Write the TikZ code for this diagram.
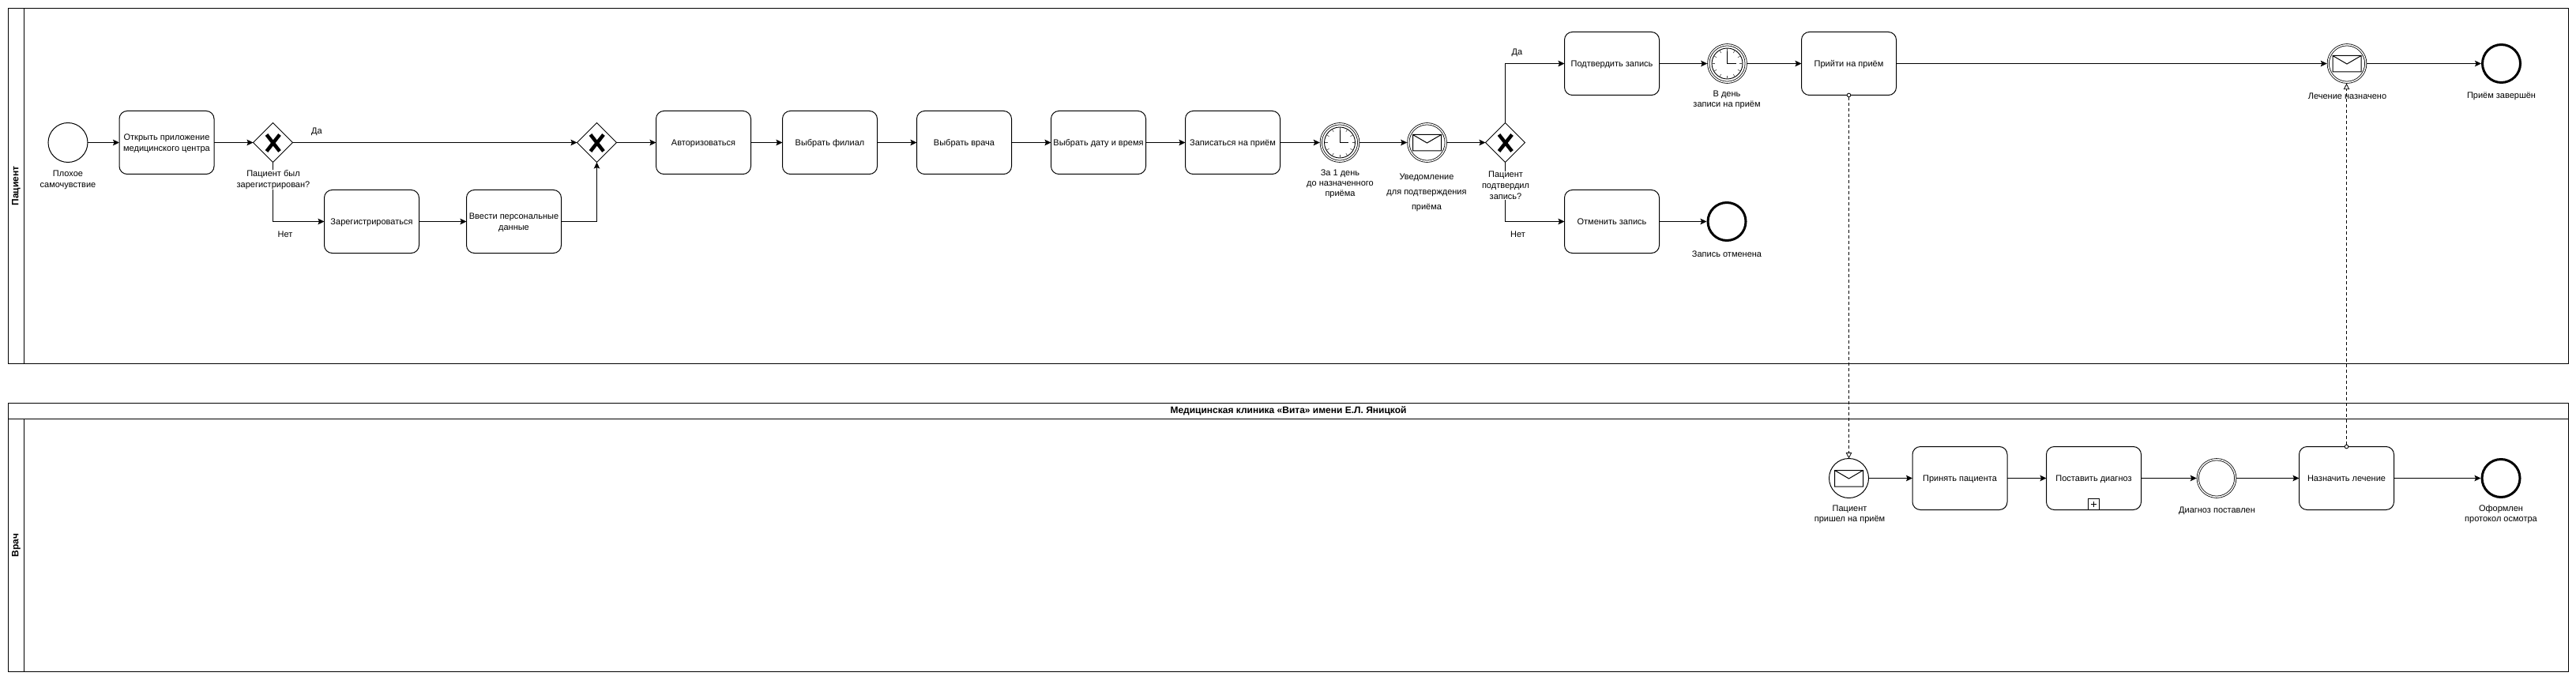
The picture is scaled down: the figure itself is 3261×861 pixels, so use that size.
\documentclass[tikz,border=0pt]{standalone}
\usepackage{fontspec}
\setmainfont{Liberation Sans}
\usetikzlibrary{arrows.meta,shapes.geometric}
\tikzset{
  x=1pt,y=-1pt,
  base/.style={line width=1pt,draw=black,inner sep=0pt,outer sep=0pt},
  txt/.style={font=\fontsize{11}{14}\selectfont,align=center},
  task/.style={base,txt,rounded corners=10pt,minimum width=120pt,minimum height=80pt,text depth=0pt},
  startev/.style={base,circle,minimum size=50pt},
  interev/.style={base,circle,double,double distance=1.5pt,line width=.8pt,outer sep=1.5pt,minimum size=47.5pt},
  endev/.style={base,circle,line width=3pt,minimum size=48pt,outer sep=1.5pt},
  gate/.style={base,diamond,minimum width=50pt,minimum height=50pt,aspect=1},
  lbl/.style={txt,inner sep=0pt,outer sep=0pt},
  lblw/.style={lbl,fill=white},
  lane/.style={base,minimum width=#1,minimum height=20pt,font=\bfseries\fontsize{12}{14}\selectfont,rotate=90},
  body/.style={base},
  flow/.style={line width=1pt,-{Stealth[length=8pt,width=7.5pt,inset=1.5pt]}},
  msgflow/.style={line width=.8pt,dash pattern=on 4pt off 3pt,
    {Circle[fill=white,length=5.5pt,width=5.5pt,line width=.8pt]}-{Triangle[fill=white,length=7.5pt,width=7.5pt,line width=.8pt]},shorten <=-2.75pt},
}
\newcommand{\gatex}[1]{\draw[line width=4.5pt] ([shift={(-8,-10)}]#1.center) -- ([shift={(8.5,11)}]#1.center) ([shift={(8.5,-10)}]#1.center) -- ([shift={(-8,11)}]#1.center);}
\newcommand{\envicon}[1]{\draw[line width=1pt] ([shift={(-18,-10)}]#1.center) rectangle ([shift={(18,10.5)}]#1.center) ([shift={(-18,-10)}]#1.center) -- ([shift={(0,0.5)}]#1.center) -- ([shift={(18,-10)}]#1.center);}
\newcommand{\clockicon}[1]{%
  \draw[line width=.9pt] (#1.center) circle[radius=19.5pt];
  \draw[line width=.9pt] ([shift={(0,-19)}]#1.center) -- (#1.center) -- ([shift={(11,0)}]#1.center);
  \foreach \a in {0,30,...,330}{\draw[line width=.6pt,draw=black!70] ([shift={(\a:15.5pt)}]#1.center) -- ([shift={(\a:19pt)}]#1.center);}
}
\begin{document}
\begin{tikzpicture}
\useasboundingbox (-0.5,-0.5) rectangle (3260.5,860.5);
% pools
\node[body,minimum width=3241pt,minimum height=450pt] (poolA) at (1630.5,235) {};
\node[lane=450pt] (headA) at (20,235) {Пациент};
\node[base,minimum width=3241pt,minimum height=20pt,font=\bfseries\fontsize{12}{14}\selectfont] (titleB) at (1630.5,520) {Медицинская клиника «Вита» имени Е.Л. Яницкой};
\node[body,minimum width=3241pt,minimum height=320pt] (poolB) at (1630.5,690) {};
\node[lane=320pt] (headB) at (20,690) {Врач};
% patient row
\node[startev] (s1) at (85.5,180) {};
\node[task] (open) at (210.5,180) {Открыть приложение\\медицинского центра};
\node[gate] (g1) at (345,180) {};
\node[task] (reg) at (470,280) {Зарегистрироваться};
\node[task] (pers) at (650,280) {Ввести персональные\\данные};
\node[gate] (g2) at (755,180) {};
\node[task] (auth) at (890,180) {Авторизоваться};
\node[task] (branch) at (1050,180) {Выбрать филиал};
\node[task] (doc) at (1220,180) {Выбрать врача};
\node[task] (date) at (1390,180) {Выбрать дату и время};
\node[task] (book) at (1560,180) {Записаться на приём};
\node[interev] (t1) at (1695.5,180) {};
\node[interev] (n1) at (1806,180) {};
\node[gate] (g3) at (1905,180) {};
\node[task] (conf) at (2040,80) {Подтвердить запись};
\node[task] (canc) at (2040,280) {Отменить запись};
\node[interev] (t2) at (2186,80) {};
\node[endev] (e1) at (2185.5,280) {};
\node[task] (come) at (2340,80) {Прийти на приём};
\node[interev] (m2) at (2970.5,80) {};
\node[endev] (e2) at (3166,80) {};
% doctor row
\node[startev] (s2) at (2340,605) {};
\node[task] (acc) at (2480.5,605) {Принять пациента};
\node[task] (diag) at (2650,605) {Поставить диагноз};
\node[base,minimum size=14pt] (plus) at (2650,638) {};
\node[interev] (ev) at (2805.5,605) {};
\node[task] (presc) at (2970,605) {Назначить лечение};
\node[endev] (e3) at (3165.5,605) {};
% icons
\gatex{g1}\gatex{g2}\gatex{g3}
\clockicon{t1}\clockicon{t2}
\envicon{n1}\envicon{m2}\envicon{s2}
\draw[line width=1pt] ([shift={(-3.5,0)}]plus.center) -- ([shift={(3.5,0)}]plus.center) ([shift={(0,-3.5)}]plus.center) -- ([shift={(0,3.5)}]plus.center);
% sequence flows
\draw[flow] (s1) -- (open);
\draw[flow] (open) -- (g1);
\draw[flow] (g1) -- (g2);
\draw[flow] (g1.south) |- (reg.west);
\draw[flow] (reg) -- (pers);
\draw[flow] (pers.east) -| (g2.south);
\draw[flow] (g2) -- (auth);
\draw[flow] (auth) -- (branch);
\draw[flow] (branch) -- (doc);
\draw[flow] (doc) -- (date);
\draw[flow] (date) -- (book);
\draw[flow] (book) -- (t1);
\draw[flow] (t1) -- (n1);
\draw[flow] (n1) -- (g3);
\draw[flow] (g3.north) |- (conf.west);
\draw[flow] (g3.south) |- (canc.west);
\draw[flow] (conf) -- (t2);
\draw[flow] (t2) -- (come);
\draw[flow] (canc) -- (e1);
\draw[flow] (come) -- (m2);
\draw[flow] (m2) -- (e2);
\draw[flow] (s2) -- (acc);
\draw[flow] (acc) -- (diag);
\draw[flow] (diag) -- (ev);
\draw[flow] (ev) -- (presc);
\draw[flow] (presc) -- (e3);
% labels
\node[lbl] (l1) at (85.5,227) {Плохое\\самочувствие};
\node[lblw] (l2) at (345.5,227) {Пациент был\\зарегистрирован?};
\node[lbl] (l3) at (400.5,166.5) {Да};
\node[lbl] (l4) at (360.5,296) {Нет};
\node[lbl,font=\fontsize{11}{13.2}\selectfont] (l5) at (1696,232.5) {За 1 день\\до назначенного\\приёма};
\node[lbl,font=\fontsize{11}{19}\selectfont] (l6) at (1805.5,243.5) {Уведомление\\для подтверждения\\приёма};
\node[lblw] (l7) at (1905.5,234.5) {Пациент\\подтвердил\\запись?};
\node[lbl] (l8) at (1920,66.5) {Да};
\node[lbl] (l9) at (1921,296) {Нет};
\node[lbl,font=\fontsize{11}{13.2}\selectfont] (l10) at (2185.5,125.5) {В день\\записи на приём};
\node[lbl] (l11) at (2185.5,321) {Запись отменена};
\node[lbl] (l12) at (2971,121) {Лечение назначено};
\node[lbl] (l13) at (3166,121) {Приём завершён};
\node[lbl,font=\fontsize{11}{13.2}\selectfont] (l14) at (2341,651) {Пациент\\пришел на приём};
\node[lbl] (l15) at (2806,646.5) {Диагноз поставлен};
\node[lbl,font=\fontsize{11}{13.2}\selectfont] (l16) at (3165.5,651) {Оформлен\\протокол осмотра};
% message flows
\draw[msgflow] (come.south) -- (s2.north);
\draw[msgflow] (presc.north) -- (presc.north |- m2.south);
\end{tikzpicture}
\end{document}
